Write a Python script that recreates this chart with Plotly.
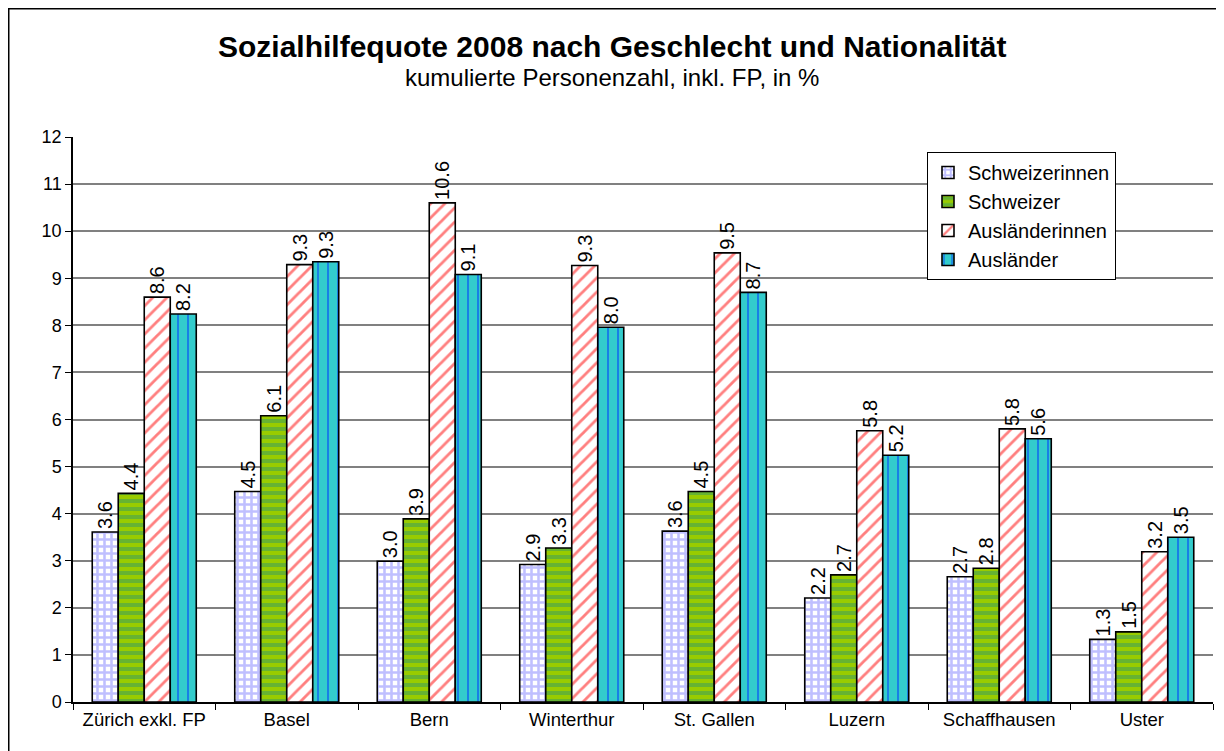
import plotly.graph_objects as go

categories = ["Zürich exkl. FP", "Basel", "Bern", "Winterthur", "St. Gallen",
              "Luzern", "Schaffhausen", "Uster"]
schweizerinnen = [3.61, 4.47, 2.99, 2.92, 3.63, 2.21, 2.66, 1.33]
schweizer = [4.43, 6.08, 3.89, 3.27, 4.47, 2.70, 2.84, 1.49]
auslaenderinnen = [8.60, 9.29, 10.60, 9.27, 9.54, 5.76, 5.80, 3.19]
auslaender = [8.24, 9.35, 9.08, 7.96, 8.70, 5.24, 5.59, 3.50]
series_names = ["Schweizerinnen", "Schweizer", "Ausländerinnen", "Ausländer"]
y_ticks = list(range(0, 13))

# page body has an 8px margin, so figure pixel coords = reference coords - 8
W, H = 1216, 743
L, R, T, B = 65, 11, 129, 49
FONT = "Arial, Liberation Sans, sans-serif"

styles = [
    dict(color="white", pattern=dict(shape="+", fgcolor="#8080ff", bgcolor="white", size=7, solidity=0.6)),
    dict(color="#99cc00", pattern=dict(shape="-", fgcolor="#339966", bgcolor="#99cc00", size=8, solidity=0.5)),
    dict(color="white", pattern=dict(shape="/", fgcolor="#ff0000", bgcolor="white", size=10, solidity=0.28)),
    dict(color="#33cccc", pattern=dict(shape="|", fgcolor="#0033ff", bgcolor="#33cccc", size=10, solidity=0.2)),
]

fig = go.Figure()
for name, vals, st in zip(series_names, [schweizerinnen, schweizer, auslaenderinnen, auslaender], styles):
    fig.add_trace(go.Bar(
        x=categories, y=vals, name=name,
        marker=dict(color=st["color"], pattern=st["pattern"], line=dict(color="black", width=1.6)),
        text=[f"{v:.1f}" for v in vals], texttemplate="%{text}",
        textposition="outside", textangle=-90, constraintext="none",
        textfont=dict(family=FONT, size=20, color="black"),
        cliponaxis=False,
    ))

pw = W - L - R
ph = H - T - B
def px_x(x):
    return (x - L) / pw
def px_y(y):
    return (H - B - y) / ph

fig.update_layout(
    width=W, height=H,
    margin=dict(l=L, r=R, t=T, b=B),
    paper_bgcolor="white", plot_bgcolor="white",
    barmode="group", bargap=0.27, bargroupgap=0,
    font=dict(family=FONT, size=18, color="black"),
    showlegend=True,
    legend=dict(x=px_x(919), y=px_y(144),
                xanchor="left", yanchor="top",
                bgcolor="white", bordercolor="black", borderwidth=1,
                font=dict(size=20, family=FONT),
                itemwidth=30, tracegroupgap=0),
    xaxis=dict(type="category", showline=True, linecolor="black", linewidth=1.5,
               ticks="outside", tickson="boundaries", ticklen=6, tickcolor="black",
               showgrid=False, tickfont=dict(size=18.5)),
    yaxis=dict(range=[0, 12], tickvals=y_ticks, showline=True, linecolor="black", linewidth=1.5,
               ticks="outside", ticklen=6, tickcolor="black",
               showgrid=True, gridcolor="#808080", gridwidth=1.5,
               zeroline=False, tickfont=dict(size=18)),
    annotations=[
        dict(text="<b>Sozialhilfequote 2008 nach Geschlecht und Nationalität</b>",
             x=px_x(604), y=px_y(39), xref="paper", yref="paper", showarrow=False,
             xanchor="center", yanchor="middle",
             font=dict(size=30, family=FONT)),
        dict(text="kumulierte Personenzahl, inkl. FP, in %",
             x=px_x(604), y=px_y(69), xref="paper", yref="paper", showarrow=False,
             xanchor="center", yanchor="middle",
             font=dict(size=24, family=FONT)),
    ],
)

fig.add_shape(type="rect", xref="paper", yref="paper",
              x0=px_x(0.75), x1=px_x(1240), y0=px_y(0.75), y1=px_y(760),
              line=dict(color="black", width=1.5), fillcolor="rgba(0,0,0,0)", layer="above")

fig.write_html("out.html")
